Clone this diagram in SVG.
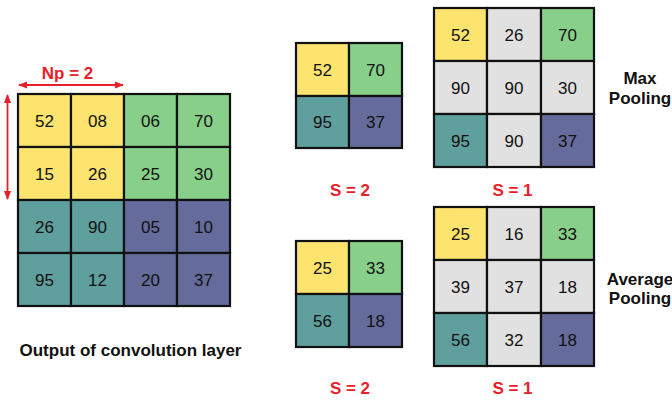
<svg xmlns="http://www.w3.org/2000/svg" width="672" height="400" viewBox="0 0 672 400">
<style>
.c{stroke:#111;stroke-width:2.2}
.y{fill:#FCE46E}.g{fill:#88D08A}.t{fill:#5F9F9D}.p{fill:#656B9B}.w{fill:#E1E1E1}
.n{font-family:"Liberation Sans",Arial,sans-serif;font-size:17px;fill:#111;text-anchor:middle}
.r{font-family:"Liberation Sans",Arial,sans-serif;font-size:17px;font-weight:bold;fill:#E8202A;text-anchor:middle}
.b{font-family:"Liberation Sans",Arial,sans-serif;font-weight:bold;fill:#111;text-anchor:middle}
.a{stroke:#E8202A;stroke-width:1.8;fill:none}
</style>
<defs>
<marker id="ah" viewBox="0 0 10 10" refX="9" refY="5" markerWidth="5" markerHeight="5" orient="auto-start-reverse">
<path d="M0,1 L10,5 L0,9 Z" fill="#E8202A"/>
</marker>
</defs>
<rect width="672" height="400" fill="#fff"/>

<g id="conv-grid">
<rect class="c y" x="18" y="94" width="53" height="53"/>
<rect class="c y" x="71" y="94" width="53" height="53"/>
<rect class="c g" x="124" y="94" width="53" height="53"/>
<rect class="c g" x="177" y="94" width="53" height="53"/>
<rect class="c y" x="18" y="147" width="53" height="53"/>
<rect class="c y" x="71" y="147" width="53" height="53"/>
<rect class="c g" x="124" y="147" width="53" height="53"/>
<rect class="c g" x="177" y="147" width="53" height="53"/>
<rect class="c t" x="18" y="200" width="53" height="53"/>
<rect class="c t" x="71" y="200" width="53" height="53"/>
<rect class="c p" x="124" y="200" width="53" height="53"/>
<rect class="c p" x="177" y="200" width="53" height="53"/>
<rect class="c t" x="18" y="253" width="53" height="53"/>
<rect class="c t" x="71" y="253" width="53" height="53"/>
<rect class="c p" x="124" y="253" width="53" height="53"/>
<rect class="c p" x="177" y="253" width="53" height="53"/>
<text class="n" x="44.5" y="126.5">52</text>
<text class="n" x="97.5" y="126.5">08</text>
<text class="n" x="150.5" y="126.5">06</text>
<text class="n" x="203.5" y="126.5">70</text>
<text class="n" x="44.5" y="179.5">15</text>
<text class="n" x="97.5" y="179.5">26</text>
<text class="n" x="150.5" y="179.5">25</text>
<text class="n" x="203.5" y="179.5">30</text>
<text class="n" x="44.5" y="232.5">26</text>
<text class="n" x="97.5" y="232.5">90</text>
<text class="n" x="150.5" y="232.5">05</text>
<text class="n" x="203.5" y="232.5">10</text>
<text class="n" x="44.5" y="285.5">95</text>
<text class="n" x="97.5" y="285.5">12</text>
<text class="n" x="150.5" y="285.5">20</text>
<text class="n" x="203.5" y="285.5">37</text>
</g>
<g id="np-label">
<text class="r" x="67.5" y="78.5">Np = 2</text>
</g>
<g id="conv-caption">
<text class="b" x="130.5" y="356" font-size="17">Output of convolution layer</text>
</g>

<g id="max-s2">
<rect class="c y" x="296" y="43" width="53" height="53"/>
<rect class="c g" x="349" y="43" width="53" height="53"/>
<rect class="c t" x="296" y="96" width="53" height="52"/>
<rect class="c p" x="349" y="96" width="53" height="52"/>
<text class="n" x="322.5" y="75.5">52</text>
<text class="n" x="375.5" y="75.5">70</text>
<text class="n" x="322.5" y="128">95</text>
<text class="n" x="375.5" y="128">37</text>
<text class="r" x="350" y="196">S = 2</text>
</g>

<g id="max-s1">
<rect class="c y" x="434" y="8" width="53" height="53"/>
<rect class="c w" x="487" y="8" width="54" height="53"/>
<rect class="c g" x="541" y="8" width="53" height="53"/>
<rect class="c w" x="434" y="61" width="53" height="53"/>
<rect class="c w" x="487" y="61" width="54" height="53"/>
<rect class="c w" x="541" y="61" width="53" height="53"/>
<rect class="c t" x="434" y="114" width="53" height="53"/>
<rect class="c w" x="487" y="114" width="54" height="53"/>
<rect class="c p" x="541" y="114" width="53" height="53"/>
<text class="n" x="460.5" y="40.5">52</text>
<text class="n" x="514" y="40.5">26</text>
<text class="n" x="567.5" y="40.5">70</text>
<text class="n" x="460.5" y="93.5">90</text>
<text class="n" x="514" y="93.5">90</text>
<text class="n" x="567.5" y="93.5">30</text>
<text class="n" x="460.5" y="146.5">95</text>
<text class="n" x="514" y="146.5">90</text>
<text class="n" x="567.5" y="146.5">37</text>
<text class="r" x="512.5" y="196">S = 1</text>
</g>
<g id="max-label">
<text class="b" font-size="17" x="640" y="83.5">Max</text>
<text class="b" font-size="17" x="640" y="103.5">Pooling</text>
</g>

<g id="avg-s2">
<rect class="c y" x="296" y="241" width="53" height="53"/>
<rect class="c g" x="349" y="241" width="53" height="53"/>
<rect class="c t" x="296" y="294" width="53" height="53"/>
<rect class="c p" x="349" y="294" width="53" height="53"/>
<text class="n" x="322.5" y="273.5">25</text>
<text class="n" x="375.5" y="273.5">33</text>
<text class="n" x="322.5" y="326.5">56</text>
<text class="n" x="375.5" y="326.5">18</text>
<text class="r" x="350" y="394">S = 2</text>
</g>

<g id="avg-s1">
<rect class="c y" x="434" y="207" width="53" height="53"/>
<rect class="c w" x="487" y="207" width="54" height="53"/>
<rect class="c g" x="541" y="207" width="53" height="53"/>
<rect class="c w" x="434" y="260" width="53" height="53"/>
<rect class="c w" x="487" y="260" width="54" height="53"/>
<rect class="c w" x="541" y="260" width="53" height="53"/>
<rect class="c t" x="434" y="313" width="53" height="53"/>
<rect class="c w" x="487" y="313" width="54" height="53"/>
<rect class="c p" x="541" y="313" width="53" height="53"/>
<text class="n" x="460.5" y="239.5">25</text>
<text class="n" x="514" y="239.5">16</text>
<text class="n" x="567.5" y="239.5">33</text>
<text class="n" x="460.5" y="292.5">39</text>
<text class="n" x="514" y="292.5">37</text>
<text class="n" x="567.5" y="292.5">18</text>
<text class="n" x="460.5" y="345.5">56</text>
<text class="n" x="514" y="345.5">32</text>
<text class="n" x="567.5" y="345.5">18</text>
<text class="r" x="512.5" y="394">S = 1</text>
</g>
<g id="avg-label">
<text class="b" font-size="17" x="640" y="285">Average</text>
<text class="b" font-size="17" x="640" y="304">Pooling</text>
</g>

<g id="connectors">
<line class="a" x1="19" y1="85" x2="123" y2="85" marker-start="url(#ah)" marker-end="url(#ah)"/>
<line class="a" x1="7.5" y1="95" x2="7.5" y2="199" marker-start="url(#ah)" marker-end="url(#ah)"/>
</g>
</svg>
